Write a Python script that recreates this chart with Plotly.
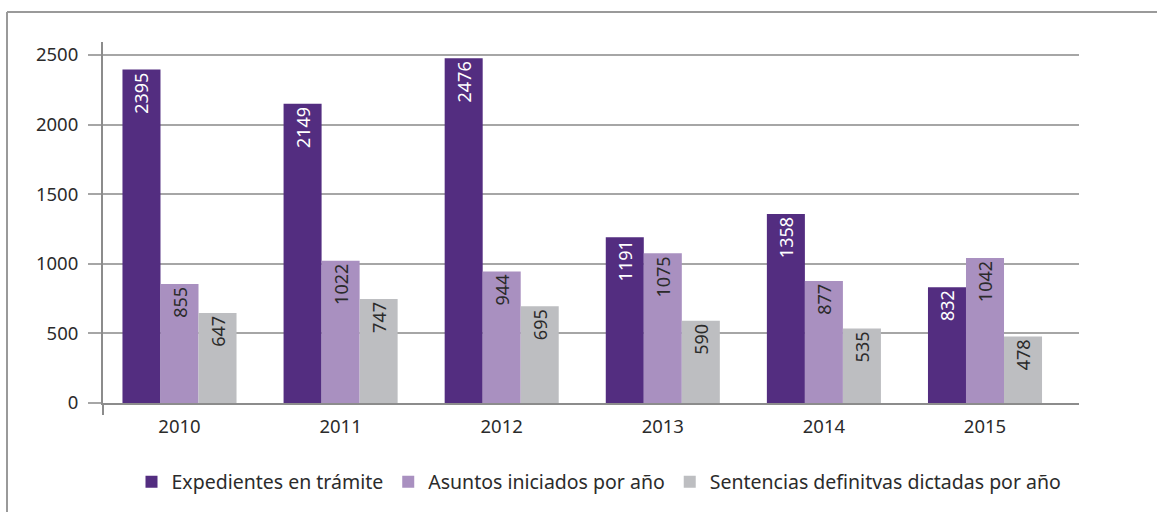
import plotly.graph_objects as go

years = ["2010", "2011", "2012", "2013", "2014", "2015"]
expedientes = [2395, 2149, 2476, 1191, 1358, 832]
asuntos = [855, 1022, 944, 1075, 877, 1042]
sentencias = [647, 747, 695, 590, 535, 478]
series_names = ["Expedientes en trámite", "Asuntos iniciados por año",
                "Sentencias definitvas dictadas por año"]
colors = ["#532D80", "#A990C0", "#BDBEC1"]
text_colors = ["#FFFFFF", "#2B2B2B", "#2B2B2B"]

FONT = "Noto Sans"
W, H = 1157, 512
L, R, T, B = 103, 78, 42, 108

fig = go.Figure()
for name, vals, col, tc in zip(series_names, [expedientes, asuntos, sentencias], colors, text_colors):
    fig.add_trace(go.Bar(
        x=years, y=vals, name=name, marker=dict(color=col, line=dict(width=0)),
        text=[str(v) for v in vals], textposition="inside", insidetextanchor="end",
        textangle=-90, textfont=dict(family=FONT, size=18, color=tc),
        cliponaxis=False,
    ))

pw = W - L - R
ph = H - T - B

def px(x):
    return (x - L) / pw

def py(y):
    return (H - B - y) / ph

# category centres at ~179.5 px (first) and ~985 px (last)
step = (985 - 179.5) / 5
x_lo = (L - 179.5) / step
x_hi = (W - R - 179.5) / step

fig.update_layout(
    width=W, height=H,
    margin=dict(l=L, r=R, t=T, b=B, pad=0),
    paper_bgcolor="white", plot_bgcolor="white",
    barmode="group", bargap=0.292, bargroupgap=0,
    font=dict(family=FONT, size=18, color="#2B2B2B"),
    showlegend=True,
    legend=dict(orientation="h", x=px(599), xanchor="center", y=py(482), yanchor="middle",
                font=dict(family=FONT, size=19.5, color="#2B2B2B"),
                itemsizing="constant", traceorder="normal", tracegroupgap=0),
    xaxis=dict(range=[x_lo, x_hi], showgrid=False, showline=True, linecolor="#8C8C8C", linewidth=2,
               ticks="", ticklabelstandoff=6,
               tickfont=dict(family=FONT, size=18.5, color="#2B2B2B"), zeroline=False),
    yaxis=dict(range=[0, 2500 * (H - B - T) / 349], tickvals=[0, 500, 1000, 1500, 2000, 2500],
               showgrid=True, gridcolor="#A6A6A6", gridwidth=2,
               showline=True, linecolor="#8C8C8C", linewidth=2,
               ticks="outside", ticklen=13, tickcolor="#A6A6A6", tickwidth=2,
               ticklabelstandoff=6,
               tickfont=dict(family=FONT, size=18.5, color="#2B2B2B"), zeroline=False),
    shapes=[
        dict(type="line", xref="paper", yref="paper", x0=px(7), x1=px(1160), y0=py(12), y1=py(12),
             line=dict(color="#9A9A9A", width=2)),
        dict(type="line", xref="paper", yref="paper", x0=px(7), x1=px(7), y0=py(12), y1=py(515),
             line=dict(color="#9A9A9A", width=2)),
        dict(type="line", xref="paper", yref="paper", x0=0, x1=0, y0=0, y1=py(416),
             line=dict(color="#8C8C8C", width=2)),
    ],
)

fig.write_html("out.html", config={"displayModeBar": False},
               post_script="document.body.style.margin='0';document.body.style.overflow='hidden';")
